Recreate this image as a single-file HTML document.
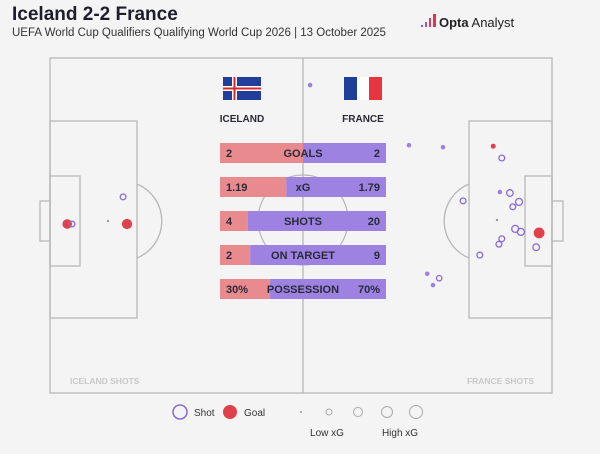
<!DOCTYPE html>
<html><head><meta charset="utf-8"><style>
body{margin:0;background:#f4f4f4;width:600px;height:449px;overflow:hidden;font-family:"Liberation Sans",sans-serif}
svg text{font-family:"Liberation Sans",sans-serif}
</style></head><body>
<svg id="c" width="600" height="449" viewBox="0 0 600 449">
<rect width="600" height="449" fill="#f4f4f4"/>
<text x="12" y="20" font-size="19" font-weight="bold" fill="#1d1d2b">Iceland 2-2 France</text>
<text x="12" y="36" font-size="11.5" fill="#333">UEFA World Cup Qualifiers Qualifying World Cup 2026 | 13 October 2025</text>
<g>
<rect x="421" y="25" width="2" height="2" fill="#8a4de0"/><rect x="425" y="22" width="2" height="5" fill="#c04fa0"/><rect x="429" y="18" width="2" height="9" fill="#e03a6a"/><rect x="433" y="14" width="3" height="13" fill="#e8304a"/>
<text x="439" y="27" font-size="13" fill="#222"><tspan font-weight="bold">Opta</tspan> Analyst</text></g>
<g id="pitch" fill="none" stroke="#b8b8b8" stroke-width="1.3">
<rect x="50" y="58" width="502" height="335"/>
<line x1="303" y1="58" x2="303" y2="393"/>
<circle cx="303" cy="220" r="45"/>
<rect x="50" y="121" width="87" height="197"/>
<rect x="50" y="176" width="30" height="90"/>
<rect x="40" y="201" width="10" height="40"/>
<path d="M137 184 A40 40 0 0 1 137 258"/>
<rect x="469" y="121" width="83" height="197"/>
<rect x="525" y="176" width="27" height="90"/>
<rect x="552" y="201" width="11" height="40"/>
<path d="M469 184 A40 40 0 0 0 469 258"/>
</g>
<circle cx="108" cy="221" r="1.2" fill="#999"/>
<circle cx="497" cy="220" r="1.2" fill="#999"/>
<g><rect x="223" y="77" width="38" height="23" fill="#1f3f9a"/><rect x="232" y="77" width="5" height="23" fill="#fff"/><rect x="223" y="86" width="38" height="5" fill="#fff"/><rect x="233.5" y="77" width="2" height="23" fill="#d72828"/><rect x="223" y="87.5" width="38" height="2" fill="#d72828"/></g>
<g><rect x="344" y="77" width="13" height="23" fill="#1f3f9a"/><rect x="357" y="77" width="12" height="23" fill="#fff"/><rect x="369" y="77" width="13" height="23" fill="#e8343f"/></g>
<text x="242" y="122" font-size="10" font-weight="bold" fill="#2a2a35" text-anchor="middle">ICELAND</text>
<text x="363" y="122" font-size="10" font-weight="bold" fill="#2a2a35" text-anchor="middle">FRANCE</text>
<g id="bars"></g>
<g id="shots"></g>
<text x="70" y="384" font-size="8.5" font-weight="bold" fill="#c8c8c8">ICELAND SHOTS</text>
<text x="534" y="384" font-size="8.5" font-weight="bold" fill="#c8c8c8" text-anchor="end">FRANCE SHOTS</text>
<g>
<circle cx="180" cy="412" r="7" fill="none" stroke="#8a6ad8" stroke-width="1.5"/><text x="194" y="416" font-size="10" fill="#333">Shot</text>
<circle cx="230" cy="412" r="7" fill="#e0404a"/><text x="244" y="416" font-size="10" fill="#333">Goal</text>
<circle cx="301" cy="412" r="1" fill="#999"/>
<circle cx="329" cy="412" r="3" fill="none" stroke="#aaa"/>
<circle cx="358" cy="412" r="4.5" fill="none" stroke="#aaa"/>
<circle cx="387" cy="412" r="5.5" fill="none" stroke="#aaa"/>
<circle cx="416" cy="412" r="6.5" fill="none" stroke="#aaa"/>
<text x="327" y="436" font-size="10" fill="#333" text-anchor="middle">Low xG</text>
<text x="400" y="436" font-size="10" fill="#333" text-anchor="middle">High xG</text>
</g>
</svg>
<script>
const statNames=["GOALS","xG","SHOTS","ON TARGET","POSSESSION"];
const icelandVals=[2,1.19,4,2,30];
const franceVals=[2,1.79,20,9,70];
const icelandLabels=["2","1.19","4","2","30%"];
const franceLabels=["2","1.79","20","9","70%"];
// shots: pitch coords (x 0..105 left to right, y 0..68 top to bottom)
const shotX=[3.6,16.1,4.6,15.3, 92.7,82.2,94.5,94.1,96.2,98.1,96.8,86.4,97.3,98.5,102.3,94.5,93.9,101.7,89.9,78.9,81.4,80.1,54.4,75.1];
const shotY=[33.7,33.7,33.7,28.2, 17.9,18.1,20.3,27.2,27.4,29.2,30.2,29.0,34.7,35.3,35.5,36.7,37.8,38.4,40.0,43.8,44.7,46.1,5.5,17.7];
const shotXg=[0.25,0.3,0.05,0.05, 0.03,0.02,0.05,0.02,0.08,0.1,0.05,0.05,0.1,0.1,0.35,0.05,0.05,0.08,0.05,0.02,0.04,0.02,0.02,0.02];
const shotGoal=[1,1,0,0, 1,0,0,0,0,0,0,0,0,0,1,0,0,0,0,0,0,0,0,0];
const shotSide=["ICE","ICE","ICE","ICE","FRA","FRA","FRA","FRA","FRA","FRA","FRA","FRA","FRA","FRA","FRA","FRA","FRA","FRA","FRA","FRA","FRA","FRA","FRA","FRA"];
const NS="http://www.w3.org/2000/svg";
const bx0=220,bx1=386,by0=143,bstep=34,bh=20;
function barX(frac){return bx0+(bx1-bx0)*frac;}
function barY(i){return by0+i*bstep;}
const bars=document.getElementById('bars');
statNames.forEach((n,i)=>{
 const t=icelandVals[i]+franceVals[i];const split=barX(icelandVals[i]/t);
 const r1=document.createElementNS(NS,'rect');
 
 
 r1.setAttribute('x',bx0);r1.setAttribute('y',barY(i));r1.setAttribute('width',split-bx0);r1.setAttribute('height',bh);r1.setAttribute('fill','#e98a8f');bars.appendChild(r1);
 const r2=document.createElementNS(NS,'rect');
 
 
 r2.setAttribute('x',split);r2.setAttribute('y',barY(i));r2.setAttribute('width',bx1-split);r2.setAttribute('height',bh);r2.setAttribute('fill','#9d82e2');bars.appendChild(r2);
 [[bx0+6,icelandLabels[i],'start','iceland-value'],[303,n,'middle','stat-name'],[bx1-6,franceLabels[i],'end','france-value']].forEach(([x,s,a,nm])=>{
  const tx=document.createElementNS(NS,'text');
  
  
  tx.setAttribute('x',x);tx.setAttribute('y',barY(i)+14);tx.setAttribute('text-anchor',a);tx.setAttribute('font-size','11');tx.setAttribute('font-weight','bold');tx.setAttribute('fill','#2a2a38');tx.textContent=s;bars.appendChild(tx);
 });
});
const px0=50,px1=552,py0=58,py1=393;
function sx(x){return px0+(px1-px0)*x/105;}
function sy(y){return py0+(py1-py0)*y/68;}
function sr(xg){return 1.3+Math.sqrt(xg)*7;}
const sg=document.getElementById('shots');
shotX.forEach((x,i)=>{
 const c=document.createElementNS(NS,'circle');
 
 
 c.setAttribute('cx',sx(x).toFixed(1));c.setAttribute('cy',sy(shotY[i]).toFixed(1));c.setAttribute('r',sr(shotXg[i]).toFixed(1));
 if(shotGoal[i]){c.setAttribute('fill','#e0404a');}
 else if(shotXg[i]<0.03){c.setAttribute('fill','#9d82e2');}
 else{c.setAttribute('fill','none');c.setAttribute('stroke','#8a6ad8');c.setAttribute('stroke-width','1.3');}
 sg.appendChild(c);
});
</script>
</body></html>
